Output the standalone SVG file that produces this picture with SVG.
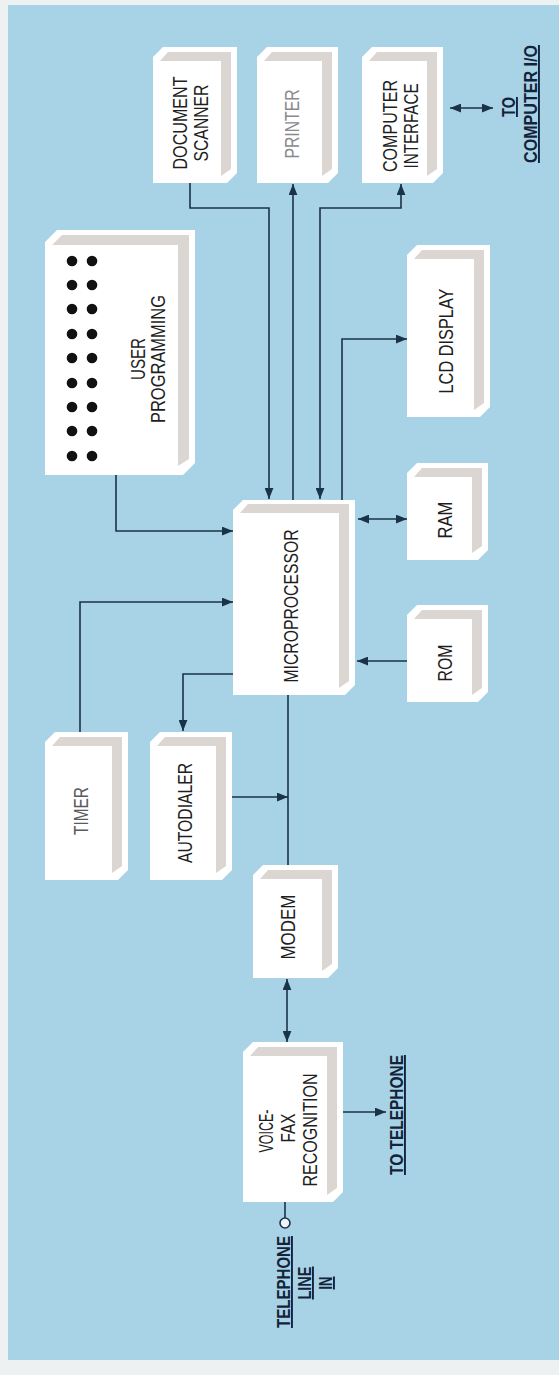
<svg xmlns="http://www.w3.org/2000/svg" width="559" height="1375" viewBox="0 0 559 1375">
<style>
.face{fill:#ffffff}
.bevel{fill:#dcd6d2}
.lbl{font-family:"Liberation Sans",Arial,sans-serif;font-size:20px;fill:#1e1e22;text-anchor:middle}
.ext{font-family:"Liberation Sans",Arial,sans-serif;font-size:19px;font-weight:bold;fill:#14233a;text-anchor:middle;text-decoration:underline}
.wire{fill:none;stroke:#1b3346;stroke-width:1.6}
.dot{fill:#111}
</style>
<defs>
<marker id="ah" viewBox="0 0 10 8" refX="10" refY="4" markerWidth="11" markerHeight="9" orient="auto-start-reverse" markerUnits="userSpaceOnUse">
<path d="M0,0 L10,4 L0,8 Z" fill="#1b3346"/>
</marker>
</defs>
<rect x="0" y="0" width="559" height="1375" fill="#eef1f1"/>
<rect x="8" y="5" width="551" height="1355" fill="#a8d3e6"/>

<g id="document-scanner">
<path class="face" d="M163,47 H237 V173 L227,183 H153 V57 Z"/>
<path class="bevel" d="M168,52 H231 V169 L221,176 V61 H160 Z"/>
<text class="lbl" transform="translate(187,123) rotate(-90)" textLength="93" lengthAdjust="spacingAndGlyphs">DOCUMENT</text>
<text class="lbl" transform="translate(208,123) rotate(-90)" textLength="77" lengthAdjust="spacingAndGlyphs">SCANNER</text>
</g>

<g id="printer">
<path class="face" d="M267,47 H338 V173 L328,183 H257 V57 Z"/>
<path class="bevel" d="M272,52 H332 V169 L322,176 V61 H264 Z"/>
<text class="lbl" style="fill:#8a8a8e" transform="translate(299,124) rotate(-90)" textLength="69" lengthAdjust="spacingAndGlyphs">PRINTER</text>
</g>

<g id="computer-interface">
<path class="face" d="M372,47 H443 V173 L433,183 H362 V57 Z"/>
<path class="bevel" d="M377,52 H437 V169 L427,176 V61 H369 Z"/>
<text class="lbl" transform="translate(397,126) rotate(-90)" textLength="92" lengthAdjust="spacingAndGlyphs">COMPUTER</text>
<text class="lbl" transform="translate(418,126) rotate(-90)" textLength="85" lengthAdjust="spacingAndGlyphs">INTERFACE</text>
</g>

<g id="to-computer-io">
<text class="ext" transform="translate(515,107) rotate(-90)" textLength="20" lengthAdjust="spacingAndGlyphs">TO</text>
<text class="ext" transform="translate(537,104) rotate(-90)" textLength="118" lengthAdjust="spacingAndGlyphs">COMPUTER I/O</text>
</g>

<g id="user-programming">
<path class="face" d="M57,230 H195 V463 L183,475 H45 V242 Z"/>
<path class="bevel" d="M62,235 H189 V459 L178,466 V245 H52 Z"/>
<g class="dots">
<circle class="dot" cx="72" cy="261" r="5.3"/><circle class="dot" cx="92" cy="261" r="5.3"/>
<circle class="dot" cx="72" cy="285" r="5.3"/><circle class="dot" cx="92" cy="285" r="5.3"/>
<circle class="dot" cx="72" cy="309" r="5.3"/><circle class="dot" cx="92" cy="309" r="5.3"/>
<circle class="dot" cx="72" cy="334" r="5.3"/><circle class="dot" cx="92" cy="334" r="5.3"/>
<circle class="dot" cx="72" cy="358" r="5.3"/><circle class="dot" cx="92" cy="358" r="5.3"/>
<circle class="dot" cx="72" cy="383" r="5.3"/><circle class="dot" cx="92" cy="383" r="5.3"/>
<circle class="dot" cx="72" cy="407" r="5.3"/><circle class="dot" cx="92" cy="407" r="5.3"/>
<circle class="dot" cx="72" cy="431" r="5.3"/><circle class="dot" cx="92" cy="431" r="5.3"/>
<circle class="dot" cx="72" cy="456" r="5.3"/><circle class="dot" cx="92" cy="456" r="5.3"/>
</g>
<text class="lbl" transform="translate(145,359) rotate(-90)" textLength="42" lengthAdjust="spacingAndGlyphs">USER</text>
<text class="lbl" transform="translate(165,359) rotate(-90)" textLength="128" lengthAdjust="spacingAndGlyphs">PROGRAMMING</text>
</g>

<g id="lcd-display">
<path class="face" d="M417,245 H490 V407 L480,417 H407 V255 Z"/>
<path class="bevel" d="M422,250 H484 V403 L474,410 V259 H414 Z"/>
<text class="lbl" transform="translate(453,341) rotate(-90)" textLength="105" lengthAdjust="spacingAndGlyphs">LCD DISPLAY</text>
</g>

<g id="microprocessor">
<path class="face" d="M243,500 H355 V685 L345,695 H233 V510 Z"/>
<path class="bevel" d="M248,504 H349 V681 L339,688 V513 H240 Z"/>
<text class="lbl" transform="translate(298,606) rotate(-90)" textLength="153" lengthAdjust="spacingAndGlyphs">MICROPROCESSOR</text>
</g>

<g id="ram">
<path class="face" d="M417,463 H488 V550 L478,560 H407 V473 Z"/>
<path class="bevel" d="M422,468 H482 V546 L472,553 V477 H414 Z"/>
<text class="lbl" transform="translate(452,520) rotate(-90)" textLength="37" lengthAdjust="spacingAndGlyphs">RAM</text>
</g>

<g id="rom">
<path class="face" d="M417,605 H488 V692 L478,702 H407 V615 Z"/>
<path class="bevel" d="M422,610 H482 V688 L472,695 V619 H414 Z"/>
<text class="lbl" transform="translate(452,663) rotate(-90)" textLength="37" lengthAdjust="spacingAndGlyphs">ROM</text>
</g>

<g id="timer">
<path class="face" d="M55,732 H128 V870 L118,880 H45 V742 Z"/>
<path class="bevel" d="M60,737 H122 V866 L112,873 V746 H52 Z"/>
<text class="lbl" style="fill:#5a5a60" transform="translate(88,811) rotate(-90)" textLength="48" lengthAdjust="spacingAndGlyphs">TIMER</text>
</g>

<g id="autodialer">
<path class="face" d="M160,732 H232 V870 L222,880 H150 V742 Z"/>
<path class="bevel" d="M165,737 H226 V866 L216,873 V746 H157 Z"/>
<text class="lbl" transform="translate(192,813) rotate(-90)" textLength="100" lengthAdjust="spacingAndGlyphs">AUTODIALER</text>
</g>

<g id="modem">
<path class="face" d="M263,865 H338 V968 L328,978 H253 V875 Z"/>
<path class="bevel" d="M268,870 H332 V964 L322,971 V879 H260 Z"/>
<text class="lbl" transform="translate(295,927) rotate(-90)" textLength="65" lengthAdjust="spacingAndGlyphs">MODEM</text>
</g>

<g id="voice-fax-recognition">
<path class="face" d="M253,1042 H343 V1192 L333,1202 H243 V1052 Z"/>
<path class="bevel" d="M258,1047 H337 V1188 L327,1195 V1056 H250 Z"/>
<text class="lbl" transform="translate(273,1131) rotate(-90)" textLength="43" lengthAdjust="spacingAndGlyphs">VOICE-</text>
<text class="lbl" transform="translate(295,1128) rotate(-90)" textLength="29" lengthAdjust="spacingAndGlyphs">FAX</text>
<text class="lbl" transform="translate(317,1130) rotate(-90)" textLength="113" lengthAdjust="spacingAndGlyphs">RECOGNITION</text>
</g>

<g id="to-telephone">
<text class="ext" transform="translate(403,1115) rotate(-90)" textLength="120" lengthAdjust="spacingAndGlyphs">TO TELEPHONE</text>
</g>

<g id="telephone-line-in">
<text class="ext" transform="translate(290,1282) rotate(-90)" textLength="92" lengthAdjust="spacingAndGlyphs">TELEPHONE</text>
<text class="ext" transform="translate(311,1283) rotate(-90)" textLength="33" lengthAdjust="spacingAndGlyphs">LINE</text>
<text class="ext" transform="translate(332,1283) rotate(-90)" textLength="13" lengthAdjust="spacingAndGlyphs">IN</text>
</g>

<g id="connectors">
<path class="wire" d="M190,183 V208 H269 V499" marker-end="url(#ah)"/>
<path class="wire" d="M293,500 V184" marker-end="url(#ah)"/>
<path class="wire" d="M320,499 V208 H401 V184" marker-start="url(#ah)" marker-end="url(#ah)"/>
<path class="wire" d="M342,500 V339 H407" marker-end="url(#ah)"/>
<path class="wire" d="M116,475 V531 H233" marker-end="url(#ah)"/>
<path class="wire" d="M80,732 V602 H233" marker-end="url(#ah)"/>
<path class="wire" d="M233,674 H183 V731" marker-end="url(#ah)"/>
<path class="wire" d="M358,519 H407" marker-start="url(#ah)" marker-end="url(#ah)"/>
<path class="wire" d="M407,661 H357" marker-end="url(#ah)"/>
<path class="wire" d="M288,695 V865"/>
<path class="wire" d="M232,797 H288" marker-end="url(#ah)"/>
<path class="wire" d="M287,979 V1042" marker-start="url(#ah)" marker-end="url(#ah)"/>
<path class="wire" d="M343,1112 H386" marker-end="url(#ah)"/>
<path class="wire" d="M450,108 H493" marker-start="url(#ah)" marker-end="url(#ah)"/>
<path class="wire" d="M285,1202 V1218"/>
<circle cx="285" cy="1223" r="5" fill="#eef4f6" stroke="#1b3346" stroke-width="1.6"/>
</g>
</svg>
